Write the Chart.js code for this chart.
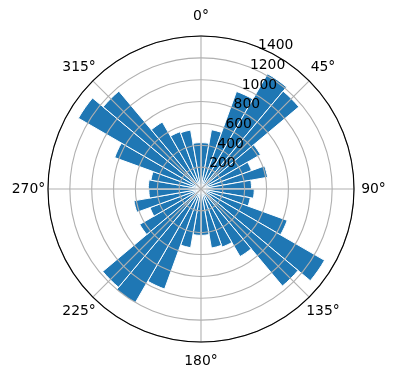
<!DOCTYPE html>
<html>
<head>
<meta charset="utf-8">
<script src="https://cdn.jsdelivr.net/npm/chart.js@4"></script>
<style>
  html, body { margin: 0; padding: 0; background: #fff; }
  #wrap { width: 396px; height: 380px; }
</style>
</head>
<body>
<div id="wrap"><canvas id="rose" width="396" height="380"></canvas></div>
<script>
// bin centres (degrees, clockwise from north) and counts per 10° bin
const directions = [5, 15, 25, 35, 45, 55, 65, 75, 85,
                    95, 105, 115, 125, 135, 145, 155, 165, 175,
                    185, 195, 205, 215, 225, 235, 245, 255, 265,
                    275, 285, 295, 305, 315, 325, 335, 345, 355];
const counts = [435, 565, 975, 1250, 1200, 645, 505, 635, 475,
                500, 470, 862, 1340, 1190, 733, 580, 563, 435,
                435, 560, 1000, 1234, 1205, 665, 510, 640, 490,
                495, 478, 863, 1330, 1200, 726, 573, 562, 435];

const thetaTicks = [0, 45, 90, 135, 180, 225, 270, 315];
const thetaLabels = ['0°', '45°', '90°', '135°', '180°', '225°', '270°', '315°'];
const rTicks = [200, 400, 600, 800, 1000, 1200, 1400];
const rMax = 1437;

const FONT = '13.9px "DejaVu Sans"';

// theta grid, outer spine and all tick labels, drawn over the bars like matplotlib
const polarDecor = {
    id: 'polarDecor',
    afterDraw(chart) {
        const s = chart.scales.r;
        const ctx = chart.ctx;
        const cx = s.xCenter, cy = s.yCenter, R = s.drawingArea;
        ctx.save();

        // angle grid lines
        ctx.strokeStyle = '#b0b0b0';
        ctx.lineWidth = 1.1;
        thetaTicks.forEach(t => {
            const a = t * Math.PI / 180;
            ctx.beginPath();
            ctx.moveTo(cx, cy);
            ctx.lineTo(cx + R * Math.sin(a), cy - R * Math.cos(a));
            ctx.stroke();
        });

        // outer circle
        ctx.strokeStyle = '#000';
        ctx.lineWidth = 1.1;
        ctx.beginPath();
        ctx.arc(cx, cy, R, 0, Math.PI * 2);
        ctx.stroke();

        ctx.fillStyle = '#000';
        ctx.font = FONT;

        // angle labels
        ctx.textAlign = 'center';
        ctx.textBaseline = 'middle';
        thetaTicks.forEach((t, i) => {
            const a = t * Math.PI / 180;
            const d = R + 19.5;
            ctx.fillText(thetaLabels[i], cx + d * Math.sin(a), cy - d * Math.cos(a));
        });

        // radial labels along 22.5°
        ctx.textAlign = 'left';
        ctx.textBaseline = 'alphabetic';
        const a = 22.5 * Math.PI / 180;
        rTicks.forEach(v => {
            const d = s.getDistanceFromCenterForValue(v);
            ctx.fillText(String(v), cx + d * Math.sin(a), cy - d * Math.cos(a) - 2);
        });
        ctx.restore();
    }
};

new Chart(document.getElementById('rose'), {
    type: 'polarArea',
    data: {
        labels: directions.map(d => d + '°'),
        datasets: [{
            data: counts,
            backgroundColor: '#1f77b4',
            borderColor: '#ffffff',
            borderWidth: 1
        }]
    },
    options: {
        responsive: false,
        animation: false,
        layout: { padding: { left: 48, right: 42, top: 36, bottom: 38 } },
        plugins: {
            legend: { display: false },
            tooltip: { enabled: false }
        },
        scales: {
            r: {
                min: 0,
                max: rMax,
                startAngle: 0,
                ticks: { display: false, stepSize: 200 },
                angleLines: { display: false },
                pointLabels: { display: false },
                grid: {
                    display: true,
                    z: 1,
                    circular: true,
                    lineWidth: 1.1,
                    color: '#b0b0b0'
                }
            }
        }
    },
    plugins: [polarDecor]
});
</script>
</body>
</html>
